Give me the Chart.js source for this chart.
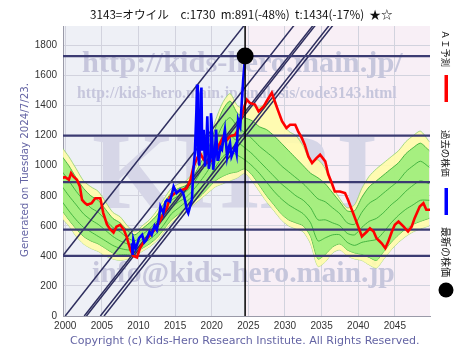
<!DOCTYPE html>
<html><head><meta charset="utf-8">
<script src="https://cdn.jsdelivr.net/npm/chart.js@4"></script>
<style>html,body{margin:0;padding:0;background:#fff}canvas{display:block}</style>
</head><body>
<canvas id="c" width="474" height="355"></canvas>
<script>
// ---------- data ----------
const titleText = "3143=オウイル\u3000c:1730  m:891(-48%)  t:1434(-17%)  ★☆";
const generatedText = "Generated on Tuesday 2024/7/23.";
const copyrightText = "Copyright (c) Kids-Hero Research Institute. All Rights Reserved.";
const legendLabels = ["ＡＩ予測", "過去の株価", "最新の株価"];
const xTickYears = [2000, 2005, 2010, 2015, 2020, 2025, 2030, 2035, 2040, 2045];
const yTickValues = [0, 200, 400, 600, 800, 1000, 1200, 1400, 1600, 1800];
const xRange = [1999.7, 2049.8];
const yRange = [0, 1930];

const latestYear = 2024.56;
const latestPrice = 1730;
const levelValues = [1730, 1200, 891, 575, 400];
const trendFromYears = [1993.2, 2000.0, 2002.6, 2002.9, 2004.8, 2005.3]; // value 0
const trendToYears   = [2025.5, 2032.3, 2034.9, 2035.2, 2037.1, 2037.6]; // value 2000
const trendWidths    = [1.5, 1.5, 1.5, 1.5, 1.5, 1.5];

const pastYears = [2009.1,2009.2,2009.3,2009.6,2009.8,2010.1,2010.5,2010.8,2011.1,2011.5,2011.8,2012.2,2012.5,2012.8,2013.0,2013.4,2013.7,2013.9,2014.3,2014.6,2014.8,2015.2,2015.7,2016.1,2016.4,2016.6,2016.8,2017.1,2017.3,2017.5,2017.7,2017.9,2018.0,2018.1,2018.3,2018.5,2018.6,2018.7,2018.9,2019.1,2019.3,2019.4,2019.6,2019.8,2019.9,2020.0,2020.2,2020.4,2020.6,2020.8,2020.9,2021.2,2021.4,2021.6,2021.8,2022.1,2022.3,2022.5,2022.7,2023.0,2023.2,2023.4,2023.6,2023.9,2024.1,2024.3,2024.56];
const pastPrices = [485,406,507,450,473,520,540,490,507,560,540,600,573,650,729,685,760,773,762,820,862,818,840,818,760,707,685,740,773,973,1085,1350,1540,1100,1000,1480,1520,1100,1240,995,1180,1329,980,1060,1350,1285,973,1060,1240,1040,1040,1120,1107,1180,1240,1062,1120,1151,1062,1100,1129,1080,1307,1262,1418,1573,1730];

const aiYears = [1999.5,2000.0,2000.5,2000.8,2001.1,2001.6,2002.0,2002.3,2002.7,2003.0,2003.6,2004.1,2004.8,2005.2,2005.7,2006.1,2006.6,2007.0,2007.5,2008.0,2008.4,2008.9,2009.3,2009.8,2010.2,2010.7,2011.6,2012.5,2013.4,2013.9,2014.3,2015.0,2015.7,2016.6,2017.1,2017.5,2018.0,2018.4,2018.9,2019.5,2020.2,2020.9,2021.6,2022.1,2022.5,2023.2,2023.6,2024.1,2024.5,2024.8,2025.2,2025.9,2026.4,2027.1,2027.5,2028.2,2028.6,2029.1,2029.6,2030.2,2030.7,2031.4,2031.8,2032.3,2032.7,2033.2,2033.7,2034.3,2034.8,2035.5,2035.9,2036.4,2036.8,2037.5,2038.2,2038.6,2039.3,2040.0,2040.5,2041.2,2041.6,2042.1,2042.5,2043.2,2043.7,2044.1,2044.6,2045.0,2045.5,2046.2,2046.8,2047.3,2047.7,2048.4,2048.9,2049.3,2049.8];
const aiValues = [918,924,907,951,929,907,862,773,751,740,751,784,784,685,610,580,555,595,607,575,525,440,400,390,450,490,540,590,680,720,790,818,835,850,907,990,1050,1085,1040,1018,1040,1129,1196,1173,1196,1207,1240,1329,1400,1440,1418,1407,1362,1395,1429,1485,1429,1362,1296,1251,1273,1273,1229,1185,1140,1062,1018,1051,1073,1029,945,884,829,829,818,773,685,595,529,562,584,562,518,484,451,495,562,607,629,595,562,595,651,729,751,707,707];

const bandYears = [1999.6,2000.5,2001.5,2002.5,2003.5,2004.5,2005.5,2006.5,2007.5,2008.5,2009.5,2010.5,2011.5,2012.5,2013.5,2014.5,2015.5,2016.5,2017.5,2018.5,2019.5,2020.5,2021.5,2022.5,2023.5,2024.5,2025.5,2026.5,2027.5,2028.5,2029.5,2030.5,2031.5,2032.5,2033.5,2034.5,2035.5,2036.5,2037.5,2038.5,2039.5,2040.5,2041.5,2042.5,2043.5,2044.5,2045.5,2046.5,2047.5,2048.5,2049.7];
const outerTop = [1120,1060,980,900,860,830,760,690,660,600,560,600,640,700,780,850,880,900,960,1060,1150,1300,1420,1480,1400,1380,1400,1390,1420,1450,1300,1230,1200,1130,1030,1040,980,860,780,720,740,850,930,980,1020,1060,1100,1160,1200,1230,1160];
const innerTop = [1060,1000,920,850,800,770,710,650,620,570,540,580,620,670,750,820,850,870,930,1020,1110,1250,1370,1430,1350,1320,1300,1260,1240,1200,1150,1100,1050,1000,950,920,880,820,760,700,700,790,860,900,940,980,1020,1080,1120,1150,1100];
const midLine1 = [960,900,830,770,720,690,640,590,560,520,500,540,580,630,700,770,800,830,880,960,1040,1160,1270,1320,1260,1220,1180,1130,1090,1050,1000,960,920,880,830,780,760,720,680,620,610,690,750,780,820,860,900,960,1000,1030,990];
const midLine2 = [860,800,740,680,640,610,570,530,500,480,470,510,540,590,650,720,760,790,840,900,970,1070,1160,1200,1160,1120,1080,1030,980,930,880,840,800,770,720,640,640,620,600,550,540,590,630,650,690,740,780,830,870,900,880];
const midLine3 = [760,700,640,590,560,530,500,470,450,440,440,480,510,550,610,680,720,760,800,850,910,990,1060,1090,1070,1040,1000,950,890,830,780,740,710,680,620,500,520,540,540,490,470,490,500,510,560,620,670,710,740,770,770];
const innerBottom = [700,640,580,530,500,480,450,420,410,410,420,450,480,520,580,640,680,720,760,800,850,900,930,950,960,980,940,870,800,740,680,640,620,600,530,380,410,460,480,440,420,410,390,370,430,490,540,580,610,630,650];
const outerBottom = [650,600,530,480,450,430,400,380,370,380,400,430,460,500,560,620,660,700,740,780,820,860,880,900,920,950,900,830,760,700,640,600,580,560,480,330,360,420,440,400,380,370,340,320,380,440,490,530,560,580,600];

// ---------- helpers ----------
const pts = (xs, ys) => xs.map((x, i) => ({x, y: ys[i]}));
const NAVY = '#3b3b72';
const lineDS = (data, color, width, extra) => Object.assign({
  type: 'line', data, borderColor: color, borderWidth: width, pointRadius: 0,
  fill: false, tension: 0
}, extra || {});

const datasets = [];
datasets.push(lineDS([{x: latestYear, y: latestPrice}], '#000', 0, {pointRadius: 8.5, pointBackgroundColor: '#000', pointBorderWidth: 0, showLine: false}));
datasets.push(lineDS([{x: latestYear, y: yRange[0]}, {x: latestYear, y: yRange[1]}], '#000', 1.5));
datasets.push(lineDS(pts(pastYears, pastPrices), '#0000ff', 2.6));
datasets.push(lineDS(pts(aiYears, aiValues), '#ff0000', 2.6));
levelValues.forEach(v => datasets.push(lineDS([{x: xRange[0], y: v}, {x: xRange[1], y: v}], NAVY, 2.2)));
trendFromYears.forEach((x0, i) => datasets.push(lineDS([{x: x0, y: 0}, {x: trendToYears[i], y: 2000}], '#2e2e5e', trendWidths[i])));
[midLine1, midLine2, midLine3].forEach(arr => datasets.push(lineDS(pts(bandYears, arr), '#3aae3a', 0.9, {tension: 0.25})));
datasets.push(lineDS(pts(bandYears, innerTop), '#3aae3a', 0.9, {tension: 0.25, fill: '+1', backgroundColor: 'rgba(150,236,120,0.85)'}));
datasets.push(lineDS(pts(bandYears, innerBottom), '#3aae3a', 0.9, {tension: 0.25}));
datasets.push(lineDS(pts(bandYears, outerTop), '#8fd070', 0.8, {tension: 0.25, fill: '+1', backgroundColor: 'rgba(255,252,170,0.9)'}));
datasets.push(lineDS(pts(bandYears, outerBottom), '#8fd070', 0.8, {tension: 0.25}));

function fitText(ctx, text, x, y, width, fontFn, align) {
  let size = 12;
  ctx.font = fontFn(size);
  const w = ctx.measureText(text).width;
  size = size * width / w;
  ctx.font = fontFn(size);
  ctx.textAlign = align || 'left';
  ctx.fillText(text, x, y);
}

const decor = {
  id: 'decor',
  beforeDraw(chart) {
    const {ctx, chartArea: a, scales: {x}} = chart;
    ctx.save();
    ctx.fillStyle = '#fff';
    ctx.fillRect(0, 0, chart.width, chart.height);
    const xc = x.getPixelForValue(latestYear);
    ctx.fillStyle = '#eef0f6';
    ctx.fillRect(a.left, a.top, xc - a.left, a.bottom - a.top);
    ctx.fillStyle = '#f8eff6';
    ctx.fillRect(xc, a.top, a.right - xc, a.bottom - a.top);
    ctx.restore();
  },
  beforeDatasetsDraw(chart) {
    const {ctx, chartArea: a} = chart;
    ctx.save();
    ctx.beginPath(); ctx.rect(a.left, a.top, a.right - a.left, a.bottom - a.top); ctx.clip();
    ctx.textBaseline = 'alphabetic';
    ctx.fillStyle = '#d6d6e7';
    fitText(ctx, 'KHRI', 92, 208, 286, s => `bold ${s}px "Liberation Serif"`);
    ctx.fillStyle = '#c6c6dc';
    fitText(ctx, 'http://kids-hero.main.jp/', 82, 72, 321, s => `bold ${s}px "Liberation Serif"`);
    fitText(ctx, 'http://kids-hero.main.jp/analysis/code3143.html', 77, 98, 320, s => `bold ${s}px "Liberation Serif"`);
    fitText(ctx, 'info@kids-hero.main.jp', 92, 282, 303, s => `bold ${s}px "Liberation Serif"`);
    ctx.restore();
  },
  afterDraw(chart) {
    const {ctx} = chart;
    ctx.save();
    ctx.textBaseline = 'middle';
    ctx.fillStyle = '#111';
    fitText(ctx, titleText, 90, 15, 303, s => `${s}px "Noto Sans CJK JP", "DejaVu Sans", sans-serif`);
    ctx.fillStyle = '#6464a4';
    fitText(ctx, copyrightText, 70, 341, 350, s => `${s}px "DejaVu Sans", sans-serif`);
    ctx.save();
    ctx.translate(25, 257);
    ctx.rotate(-Math.PI / 2);
    fitText(ctx, generatedText, 0, 0, 174, s => `${s}px "DejaVu Sans", sans-serif`);
    ctx.restore();
    const lx = 446;
    const items = [[30, 37], [130, 47], [227, 50]];
    ctx.fillStyle = '#111';
    legendLabels.forEach((t, i) => {
      ctx.save();
      ctx.translate(lx, items[i][0]);
      ctx.rotate(Math.PI / 2);
      fitText(ctx, t, 0, 0, items[i][1], s => `${s}px "Noto Sans CJK JP", sans-serif`);
      ctx.restore();
    });
    ctx.fillStyle = '#ff0000'; ctx.fillRect(lx - 1.5, 75, 3.5, 27);
    ctx.fillStyle = '#0000ff'; ctx.fillRect(lx - 1.5, 188, 3.5, 27);
    ctx.fillStyle = '#000'; ctx.beginPath(); ctx.arc(lx, 290, 7.5, 0, Math.PI * 2); ctx.fill();
    ctx.restore();
  }
};

new Chart(document.getElementById('c'), {
  type: 'line',
  data: {datasets},
  options: {
    responsive: false, animation: false, devicePixelRatio: 1,
    layout: {padding: {top: 26, right: 44, bottom: 19, left: 0}},
    plugins: {legend: {display: false}, tooltip: {enabled: false}, title: {display: false}},
    scales: {
      x: {
        type: 'linear', min: xRange[0], max: xRange[1],
        afterBuildTicks: s => { s.ticks = xTickYears.map(v => ({value: v})); },
        afterFit: s => { s.height = 20; },
        ticks: {color: '#333', font: {family: '"Liberation Sans", Arial, sans-serif', size: 10}, padding: 4, maxRotation: 0, autoSkip: false, callback: v => String(v)},
        grid: {color: '#d2d3de', lineWidth: 1, drawTicks: false},
        border: {color: '#9a9aa8', width: 1}
      },
      y: {
        type: 'linear', min: yRange[0], max: yRange[1],
        afterBuildTicks: s => { s.ticks = yTickValues.map(v => ({value: v})); },
        afterFit: s => { s.width = 63; },
        ticks: {color: '#333', font: {family: '"Liberation Sans", Arial, sans-serif', size: 10}, padding: 6, autoSkip: false, callback: v => String(v)},
        grid: {color: '#d2d3de', lineWidth: 1, drawTicks: false},
        border: {color: '#9a9aa8', width: 1}
      }
    }
  },
  plugins: [decor]
});
</script>
</body></html>
